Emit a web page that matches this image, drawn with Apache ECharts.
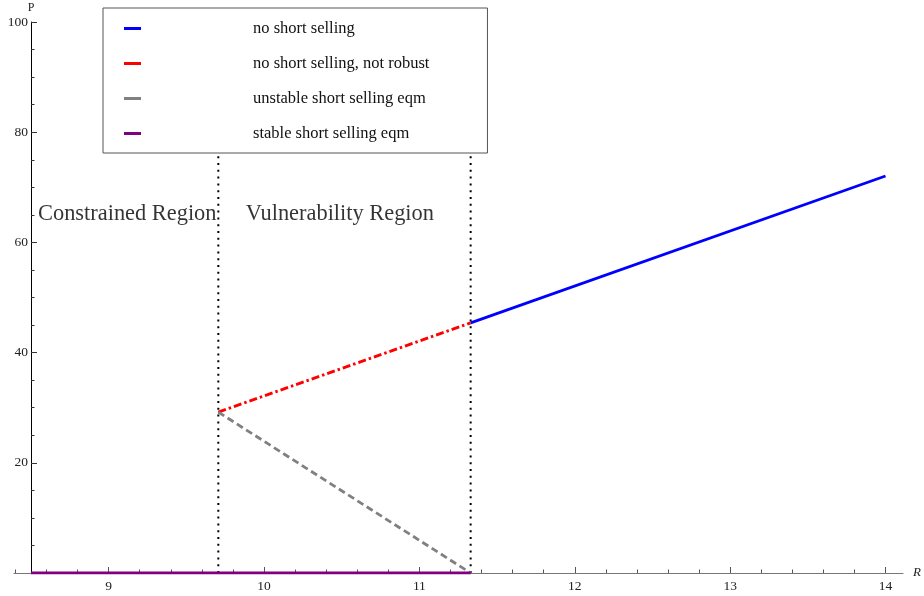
<!DOCTYPE html>
<html>
<head>
<meta charset="utf-8">
<script src="https://cdn.jsdelivr.net/npm/echarts@6/dist/echarts.min.js"></script>
<style>html,body{margin:0;padding:0;background:#fff}#c{width:924px;height:596px}</style>
</head>
<body>
<div id="c"></div>
<script>
// ---- data ----
const seriesNames = ['no short selling', 'no short selling, not robust', 'unstable short selling eqm', 'stable short selling eqm'];
const noShort = [[11.33, 45.4], [14.0, 72.05]];
const noShortNotRobust = [[9.706, 29.2], [11.33, 45.4]];
const unstableEqm = [[9.706, 29.2], [11.33, 0]];
const stableEqm = [[8.5, 0], [11.33, 0]];
const thresholdA = [[9.706, 0], [9.706, 100]];
const thresholdB = [[11.33, 0], [11.33, 100]];
const regionLabels = ['Constrained Region', 'Vulnerability Region'];
const regionLabelPos = [[9.12, 65.2], [10.488, 65.2]];
const xTickLabels = [9, 10, 11, 12, 13, 14];
const yTickLabels = [20, 40, 60, 80, 100];

// ---- layout ----
const W = 924, H = 596;
const gridLeft = 14, gridRight = 18, gridTop = 22, gridBottom = 23;
const xMin = 8.391, xMax = 14.113, yAxisAt = 8.5;
const gridW = W - gridLeft - gridRight;
const yOffset = -((yAxisAt - xMin) / (xMax - xMin) * gridW);
const minorX = [];
for (let v = 8.4; v < xMax; v += 0.2) {
  const r = Math.round(v * 10) / 10;
  if (Math.abs(r - Math.round(r)) > 1e-6) minorX.push(r);
}
const font = 'Liberation Serif';

const chart = echarts.init(document.getElementById('c'), null, {renderer: 'canvas'});
const option = {
  animation: false,
  backgroundColor: '#fff',
  textStyle: {fontFamily: font},
  grid: {left: gridLeft, right: gridRight, top: gridTop, bottom: gridBottom, containLabel: false},
  legend: {
    orient: 'vertical', left: 103, top: 8, z: 10,
    data: seriesNames,
    icon: 'rect', itemWidth: 17, itemHeight: 3, itemGap: 18,
    padding: [12, 58, 11, 21],
    backgroundColor: '#fff', borderColor: '#555', borderWidth: 1, borderRadius: 0,
    itemStyle: {borderWidth: 0},
    textStyle: {fontFamily: font, fontSize: 16.5, color: '#111', lineHeight: 16, padding: [0, 0, 0, 107]},
    selectedMode: false
  },
  xAxis: [{
    type: 'value', min: xMin, max: xMax, position: 'bottom',
    name: 'R', nameLocation: 'end', nameGap: 10,
    nameTextStyle: {fontFamily: font, fontSize: 13, fontStyle: 'italic', color: '#222'},
    axisLine: {show: true, lineStyle: {color: '#777', width: 1}},
    axisTick: {show: true, inside: true, length: 6, customValues: xTickLabels, lineStyle: {color: '#555'}},
    axisLabel: {show: true, customValues: xTickLabels, fontFamily: font, fontSize: 13.5, color: '#222', margin: 6},
    splitLine: {show: false}
  }, {
    type: 'value', min: xMin, max: xMax, position: 'bottom', offset: 0,
    axisLine: {show: false},
    axisTick: {show: true, inside: true, length: 3.5, customValues: minorX, lineStyle: {color: '#555'}},
    axisLabel: {show: false},
    splitLine: {show: false}
  }],
  yAxis: {
    type: 'value', min: 0, max: 100, interval: 20, offset: yOffset,
    name: 'P', nameLocation: 'end', nameGap: 8,
    nameTextStyle: {fontFamily: font, fontSize: 12, color: '#222'},
    axisLine: {show: true, lineStyle: {color: '#000', width: 1}},
    axisTick: {show: true, inside: true, length: 6, lineStyle: {color: '#333'}},
    minorTick: {show: true, splitNumber: 4, length: 3.5, lineStyle: {color: '#333'}},
    axisLabel: {fontFamily: font, fontSize: 13.5, color: '#222', margin: 3, customValues: yTickLabels},
    splitLine: {show: false}, minorSplitLine: {show: false}
  },
  series: [
    {type: 'line', data: thresholdA, showSymbol: false, silent: true, z: 1,
     lineStyle: {color: '#000', width: 2, type: [2, 4.8]}},
    {type: 'line', data: thresholdB, showSymbol: false, silent: true, z: 1,
     lineStyle: {color: '#000', width: 2, type: [2, 4.8]}},
    {name: seriesNames[0], type: 'line', data: noShort, showSymbol: false, color: '#0000ff', z: 3,
     lineStyle: {color: '#0000ff', width: 2.8}},
    {name: seriesNames[1], type: 'line', data: noShortNotRobust, showSymbol: false, color: '#ff0000', z: 3,
     lineStyle: {color: '#ff0000', width: 2.8, type: [8, 3, 2.5, 3]}},
    {name: seriesNames[2], type: 'line', data: unstableEqm, showSymbol: false, color: '#808080', z: 3,
     lineStyle: {color: '#808080', width: 2.8, type: [7, 4]}},
    {name: seriesNames[3], type: 'line', data: stableEqm, showSymbol: false, color: '#800080', z: 3,
     lineStyle: {color: '#800080', width: 3}},
    {type: 'scatter', symbolSize: 0, silent: true, z: 4,
     data: regionLabels.map((t, i) => ({value: regionLabelPos[i], name: t})),
     label: {show: true, position: 'inside', formatter: p => p.name, fontFamily: font, fontSize: 22.4, color: '#000'}}
  ]
};
chart.setOption(option);
</script>
</body>
</html>
